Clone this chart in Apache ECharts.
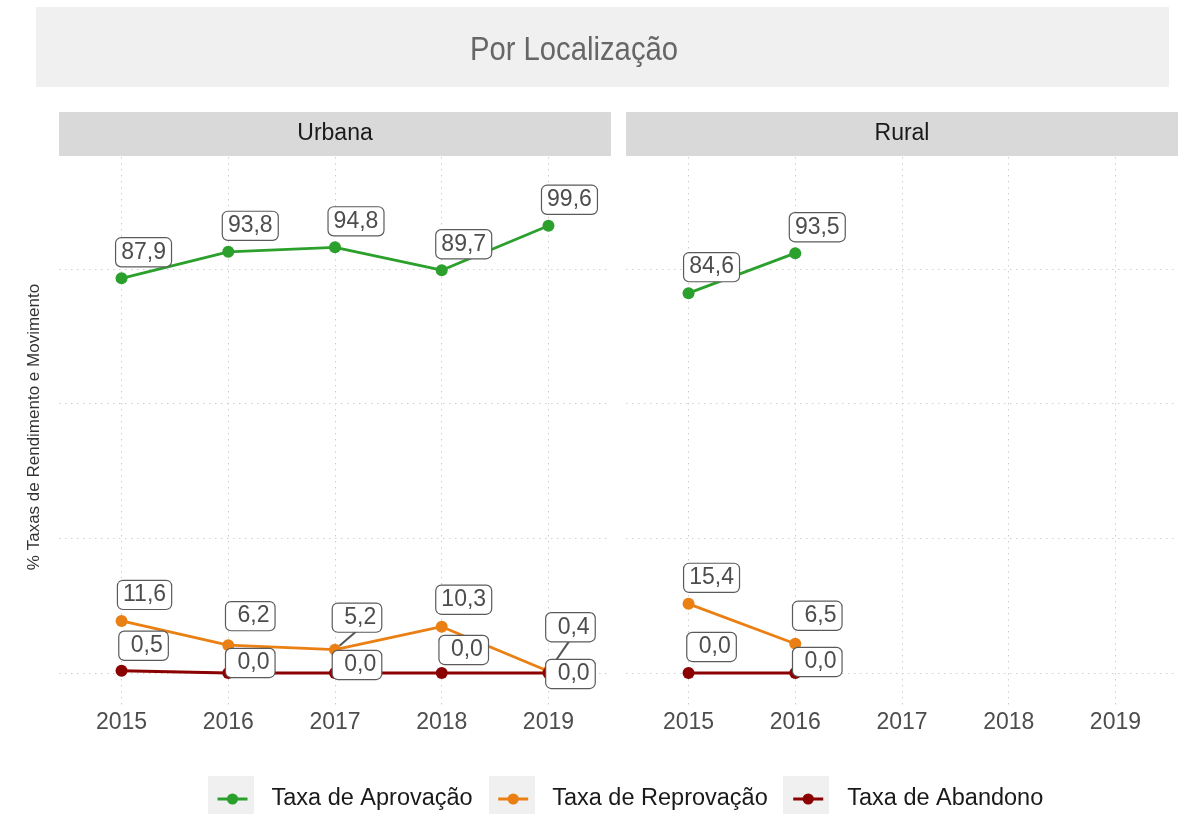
<!DOCTYPE html>
<html>
<head>
<meta charset="utf-8">
<script src="https://cdn.jsdelivr.net/npm/echarts@6/dist/echarts.min.js"></script>
<style>
  html, body { margin: 0; padding: 0; background: #ffffff; }
  #chart { width: 1189px; height: 814px; }
</style>
</head>
<body>
<div id="chart"></div>
<script>
// ---- data ----
const years = [2015, 2016, 2017, 2018, 2019];
const facetNames = ['Urbana', 'Rural'];
const rateNames = ['Taxa de Aprovação', 'Taxa de Reprovação', 'Taxa de Abandono'];

const urbanaAprovacao  = [87.9, 93.8, 94.8, 89.7, 99.6];
const urbanaReprovacao = [11.6, 6.2, 5.2, 10.3, 0.4];
const urbanaAbandono   = [0.5, 0.0, 0.0, 0.0, 0.0];

const ruralAprovacao  = [84.6, 93.5];
const ruralReprovacao = [15.4, 6.5];
const ruralAbandono   = [0.0, 0.0];

const gridValues = [0, 30, 60, 90];

const chartTitle = 'Por Localização';
const yAxisTitle = '% Taxas de Rendimento e Movimento';

// ---- layout / style ----
const FONT = "'Liberation Sans', Arial, Helvetica, sans-serif";
const colors = ['#2ca02c', '#ea8014', '#8b0000'];

const panels = [
  { left: 59, width: 552 },
  { left: 626, width: 552 }
];
const panelTop = 157, panelHeight = 548;
const yRange = { min: -7.13, max: 114.92 };
const xRange = { min: 2014.414, max: 2019.586 };

// label nudges in px (label centre relative to its point), repel-style
const labelNudge = [
  [
    [[22, -26], [22, -26], [21, -26], [22, -26], [21, -26]],
    [[23, -26], [22, -29], [22, -32], [22, -27], [22, -44]],
    [[22, -25], [22, -10], [22, -8], [22, -23], [22, 1]]
  ],
  [
    [[23, -26], [22, -26]],
    [[23, -26], [22, -28]],
    [[23, -26], [22, -11]]
  ]
];
// labels that get a leader segment back to their point
const leaderLabels = [
  [[], [2, 4], []],
  [[], [], []]
];

const facetValues = [
  [urbanaAprovacao, urbanaReprovacao, urbanaAbandono],
  [ruralAprovacao, ruralReprovacao, ruralAbandono]
];

const fmt = v => v.toFixed(1).replace('.', ',').padStart(4, ' ');

const gridLineStyle = { color: '#cfcfcf', width: 1, type: [1.5, 4.5] };

const grids = panels.map(p => ({
  left: p.left, width: p.width, top: panelTop, height: panelHeight, containLabel: false
}));

const xAxes = panels.map((p, i) => ({
  type: 'value', gridIndex: i, min: xRange.min, max: xRange.max,
  axisLine: { show: false },
  axisTick: { show: false, customValues: years },
  axisLabel: {
    customValues: years, formatter: v => String(v), margin: 6,
    fontFamily: FONT, fontSize: 23, color: '#4d4d4d'
  },
  splitLine: { show: true, lineStyle: gridLineStyle }
}));

const yAxes = panels.map((p, i) => ({
  type: 'value', gridIndex: i, min: yRange.min, max: yRange.max,
  axisLine: { show: false },
  axisTick: { show: false, customValues: gridValues },
  axisLabel: { show: false },
  splitLine: { show: true, lineStyle: gridLineStyle }
}));

const series = [];
facetValues.forEach((group, f) => {
  group.forEach((vals, s) => {
    series.push({
      type: 'line',
      name: rateNames[s],
      xAxisIndex: f, yAxisIndex: f,
      color: colors[s],
      symbol: 'circle', symbolSize: 12,
      lineStyle: { width: 2.8, color: colors[s] },
      itemStyle: { color: colors[s] },
      z: 2,
      label: {
        show: true, position: 'inside',
        formatter: p => fmt(p.value[1]),
        fontFamily: FONT, fontSize: 23, color: '#4d4d4d',
        backgroundColor: '#ffffff', borderColor: '#5a5a5a', borderWidth: 1.2,
        borderRadius: 5, padding: [3, 5, 2, 5]
      },
      labelLine: { show: false, lineStyle: { color: '#555555', width: 2 } },
      emphasis: { disabled: true },
      data: vals.map((v, k) => {
        const item = {
          value: [years[k], v],
          label: { offset: labelNudge[f][s][k] }
        };
        if (leaderLabels[f][s].indexOf(k) >= 0) {
          item.labelLine = { show: true, lineStyle: { color: '#555555', width: 2 } };
        }
        return item;
      })
    });
  });
});

const graphic = [
  { type: 'rect', shape: { x: 36, y: 7, width: 1133, height: 80 }, style: { fill: '#f0f0f0' }, z: -10 },
  { type: 'text', x: 574, y: 51, scaleX: 0.86, style: { text: chartTitle, font: `34px ${FONT}`, fill: '#666666', textAlign: 'center', textVerticalAlign: 'middle' }, z: -9 },
  ...panels.map((p, i) => ({ type: 'rect', shape: { x: p.left, y: 112, width: p.width, height: 44 }, style: { fill: '#d9d9d9' }, z: -10 })),
  ...panels.map((p, i) => ({ type: 'text', x: p.left + p.width / 2, y: 134, style: { text: facetNames[i], font: `23px ${FONT}`, fill: '#1a1a1a', textAlign: 'center', textVerticalAlign: 'middle' }, z: -9 })),
  { type: 'text', x: 34, y: 427, rotation: Math.PI / 2, style: { text: yAxisTitle, font: `17px ${FONT}`, fill: '#333333', textAlign: 'center', textVerticalAlign: 'middle' }, z: -9 },
  // grey legend key backgrounds
  { type: 'rect', shape: { x: 208, y: 776, width: 46, height: 40 }, style: { fill: '#f0f0f0' }, z: -10 },
  { type: 'rect', shape: { x: 489, y: 776, width: 46, height: 40 }, style: { fill: '#f0f0f0' }, z: -10 },
  { type: 'rect', shape: { x: 783, y: 776, width: 46, height: 40 }, style: { fill: '#f0f0f0' }, z: -10 }
];

const chart = echarts.init(document.getElementById('chart'), null, { renderer: 'canvas' });
chart.setOption({
  animation: false,
  backgroundColor: '#ffffff',
  grid: grids,
  xAxis: xAxes,
  yAxis: yAxes,
  legend: {
    data: rateNames, left: 216, top: 787, padding: 0,
    itemWidth: 30, itemHeight: 14, itemGap: 24,
    selectedMode: false,
    lineStyle: { width: 3 },
    textStyle: { fontFamily: FONT, fontSize: 23.5, color: '#1a1a1a', padding: [0, 0, 0, 19] }
  },
  graphic: graphic,
  series: series
});
</script>
</body>
</html>
